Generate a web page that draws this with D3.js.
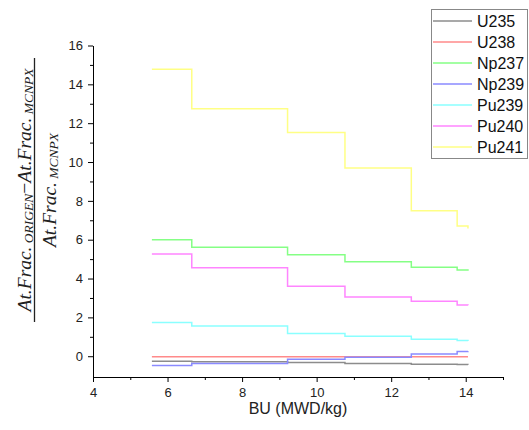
<!DOCTYPE html>
<html>
<head>
<meta charset="utf-8">
<script src="https://cdn.jsdelivr.net/npm/d3@7"></script>
<style>
  body { margin: 0; background: #fff; }
  svg { display: block; }
</style>
</head>
<body>
<div id="chart"></div>
<script>
const WIDTH = 529
const HEIGHT = 430
const MARGIN = { top: 45.5, bottom: 53, left: 93, right: 26 }

// burnup points (MWD/kg)
const bu = [5.58, 6.65, 9.22, 10.76, 12.54, 13.77, 14.06]
const isotopes = ['U235', 'U238', 'Np237', 'Np239', 'Pu239', 'Pu240', 'Pu241']
const colors = ['#8c8c8c', '#ff8a8a', '#85ff85', '#8a8aff', '#8affff', '#ff85ff', '#ffff85']

// relative difference, percent
const u235 = [-0.26, -0.29, -0.32, -0.38, -0.41, -0.43, -0.44]
const u238 = [-0.03, -0.03, -0.03, -0.03, -0.03, -0.03, -0.03]
const np237 = [6.00, 5.61, 5.23, 4.87, 4.58, 4.44, 4.40]
const np239 = [-0.48, -0.38, -0.15, -0.05, 0.12, 0.24, 0.26]
const pu239 = [1.73, 1.56, 1.17, 1.03, 0.87, 0.81, 0.79]
const pu240 = [5.26, 4.56, 3.60, 3.05, 2.83, 2.64, 2.62]
const pu241 = [14.78, 12.74, 11.52, 9.69, 7.49, 6.70, 6.58]
const seriesValues = [u235, u238, np237, np239, pu239, pu240, pu241]

const xTicks = [4, 6, 8, 10, 12, 14]
const yTicks = [0, 2, 4, 6, 8, 10, 12, 14, 16]

const innerWd = WIDTH - MARGIN.left - MARGIN.right
const innerHt = HEIGHT - MARGIN.top - MARGIN.bottom

const x = d3.scaleLinear().domain([4, 15]).range([0, innerWd])
const y = d3.scaleLinear().domain([-1.07, 16]).range([innerHt, 0])

const svg = d3.select('#chart').append('svg')
  .attr('width', WIDTH)
  .attr('height', HEIGHT)

const g = svg.append('g')
  .attr('transform', 'translate(' + MARGIN.left + ',' + MARGIN.top + ')')

// x axis with minor ticks
const xAxis = g.append('g')
  .attr('transform', 'translate(0,' + innerHt + ')')
xAxis.append('g')
  .call(d3.axisBottom(x).tickValues(d3.range(5, 16, 2)).tickFormat('').tickSize(3).tickSizeOuter(0))
xAxis.append('g')
  .call(d3.axisBottom(x).tickValues(xTicks).tickFormat(d3.format('d')).tickSize(5).tickSizeOuter(0))
xAxis.selectAll('text')
  .attr('dy', '0.95em')
  .style('font', '13px "Liberation Sans", Arial, sans-serif')
  .attr('fill', '#222')

// y axis with minor ticks
const yAxis = g.append('g')
yAxis.append('g')
  .call(d3.axisLeft(y).tickValues(d3.range(1, 16, 2)).tickFormat('').tickSize(3).tickSizeOuter(0))
yAxis.append('g')
  .call(d3.axisLeft(y).tickValues(yTicks).tickFormat(d3.format('d')).tickSize(5).tickSizeOuter(0))
yAxis.selectAll('text')
  .attr('dx', '-0.15em')
  .style('font', '13px "Liberation Sans", Arial, sans-serif')
  .attr('fill', '#222')

svg.selectAll('.domain, .tick line').attr('stroke', '#000')

// step lines
const line = d3.line()
  .x((d, i) => x(bu[i]))
  .y(d => y(d))
  .curve(d3.curveStepAfter)

g.append('g')
  .selectAll('path')
  .data(seriesValues)
  .enter()
  .append('path')
  .attr('d', d => line(d))
  .attr('fill', 'none')
  .attr('stroke', (d, i) => colors[i])
  .attr('stroke-width', 1.5)

// x label
svg.append('text')
  .attr('x', MARGIN.left + x(9.5))
  .attr('y', 414)
  .attr('text-anchor', 'middle')
  .style('font', '16px "Liberation Sans", Arial, sans-serif')
  .attr('fill', '#222')
  .text('BU (MWD/kg)')

// y label: rotated fraction
const yl = svg.append('g')
  .attr('transform', 'translate(0,190) rotate(-90)')
  .style('font-family', '"Liberation Serif", "DejaVu Serif", serif')
  .style('font-style', 'italic')
  .attr('fill', '#222')

const num = yl.append('text')
  .attr('x', 0)
  .attr('y', 30.5)
  .attr('text-anchor', 'middle')
  .style('font-size', '19.5px')
num.append('tspan').text('At.Frac.')
num.append('tspan').attr('dy', 2).style('font-size', '13.5px').text(' ORIGEN')
num.append('tspan').attr('dy', -2).style('font-style', 'normal').text('\u2212')
num.append('tspan').text('At.Frac.')
num.append('tspan').attr('dy', 2).style('font-size', '13.5px').text(' MCNPX')

yl.append('line')
  .attr('x1', -132)
  .attr('x2', 132)
  .attr('y1', 34.5)
  .attr('y2', 34.5)
  .attr('stroke', '#222')
  .attr('stroke-width', 1.3)

const den = yl.append('text')
  .attr('x', 0)
  .attr('y', 55.5)
  .attr('text-anchor', 'middle')
  .style('font-size', '19.5px')
den.append('tspan').text('At.Frac.')
den.append('tspan').attr('dy', 2).style('font-size', '13.5px').text(' MCNPX')

// legend
const legend = svg.append('g')
legend.append('rect')
  .attr('x', 431.5)
  .attr('y', 9.5)
  .attr('width', 96)
  .attr('height', 149)
  .attr('fill', '#fff')
  .attr('stroke', '#888')

const items = legend.selectAll('.item')
  .data(isotopes)
  .enter()
  .append('g')
  .attr('class', 'item')
  .attr('transform', (d, i) => 'translate(0,' + (21 + i * 21) + ')')

items.append('line')
  .attr('x1', 433)
  .attr('x2', 472)
  .attr('stroke', (d, i) => colors[i])
  .attr('stroke-width', 1.5)

items.append('text')
  .attr('x', 477)
  .attr('dy', '0.35em')
  .style('font', '16px "Liberation Sans", Arial, sans-serif')
  .attr('fill', '#111')
  .text(d => d)
</script>
</body>
</html>
